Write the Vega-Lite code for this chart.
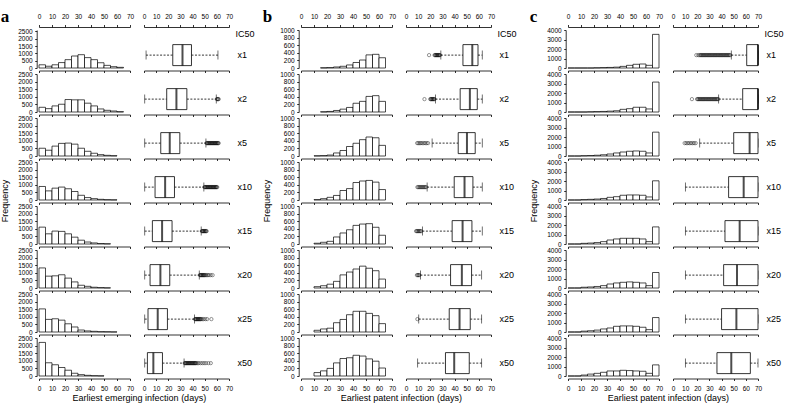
{
"$schema": "https://vega.github.io/schema/vega-lite/v6.json",
"padding": {"left": 0, "top": 7, "right": 0, "bottom": 0},
"datasets": {
"h": [
{"p":"a","r":"x1","b0":0,"b1":5,"n":220},{"p":"a","r":"x1","b0":5,"b1":10,"n":120},{"p":"a","r":"x1","b0":10,"b1":15,"n":220},{"p":"a","r":"x1","b0":15,"b1":20,"n":370},{"p":"a","r":"x1","b0":20,"b1":25,"n":570},{"p":"a","r":"x1","b0":25,"b1":30,"n":820},{"p":"a","r":"x1","b0":30,"b1":35,"n":910},{"p":"a","r":"x1","b0":35,"b1":40,"n":710},{"p":"a","r":"x1","b0":40,"b1":45,"n":570},{"p":"a","r":"x1","b0":45,"b1":50,"n":360},{"p":"a","r":"x1","b0":50,"b1":55,"n":180},{"p":"a","r":"x1","b0":55,"b1":60,"n":90},{"p":"a","r":"x1","b0":60,"b1":65,"n":45},
{"p":"a","r":"x2","b0":0,"b1":5,"n":310},{"p":"a","r":"x2","b0":5,"b1":10,"n":220},{"p":"a","r":"x2","b0":10,"b1":15,"n":400},{"p":"a","r":"x2","b0":15,"b1":20,"n":510},{"p":"a","r":"x2","b0":20,"b1":25,"n":820},{"p":"a","r":"x2","b0":25,"b1":30,"n":800},{"p":"a","r":"x2","b0":30,"b1":35,"n":800},{"p":"a","r":"x2","b0":35,"b1":40,"n":580},{"p":"a","r":"x2","b0":40,"b1":45,"n":400},{"p":"a","r":"x2","b0":45,"b1":50,"n":200},{"p":"a","r":"x2","b0":50,"b1":55,"n":110},{"p":"a","r":"x2","b0":55,"b1":60,"n":65},{"p":"a","r":"x2","b0":60,"b1":65,"n":20},
{"p":"a","r":"x5","b0":0,"b1":5,"n":510},{"p":"a","r":"x5","b0":5,"b1":10,"n":380},{"p":"a","r":"x5","b0":10,"b1":15,"n":650},{"p":"a","r":"x5","b0":15,"b1":20,"n":830},{"p":"a","r":"x5","b0":20,"b1":25,"n":850},{"p":"a","r":"x5","b0":25,"b1":30,"n":780},{"p":"a","r":"x5","b0":30,"b1":35,"n":510},{"p":"a","r":"x5","b0":35,"b1":40,"n":310},{"p":"a","r":"x5","b0":40,"b1":45,"n":180},{"p":"a","r":"x5","b0":45,"b1":50,"n":90},{"p":"a","r":"x5","b0":50,"b1":55,"n":45},{"p":"a","r":"x5","b0":55,"b1":60,"n":20},
{"p":"a","r":"x10","b0":0,"b1":5,"n":890},{"p":"a","r":"x10","b0":5,"b1":10,"n":600},{"p":"a","r":"x10","b0":10,"b1":15,"n":780},{"p":"a","r":"x10","b0":15,"b1":20,"n":850},{"p":"a","r":"x10","b0":20,"b1":25,"n":740},{"p":"a","r":"x10","b0":25,"b1":30,"n":560},{"p":"a","r":"x10","b0":30,"b1":35,"n":310},{"p":"a","r":"x10","b0":35,"b1":40,"n":160},{"p":"a","r":"x10","b0":40,"b1":45,"n":90},{"p":"a","r":"x10","b0":45,"b1":50,"n":45},{"p":"a","r":"x10","b0":50,"b1":55,"n":20},{"p":"a","r":"x10","b0":55,"b1":60,"n":10},
{"p":"a","r":"x15","b0":0,"b1":5,"n":1110},{"p":"a","r":"x15","b0":5,"b1":10,"n":670},{"p":"a","r":"x15","b0":10,"b1":15,"n":850},{"p":"a","r":"x15","b0":15,"b1":20,"n":830},{"p":"a","r":"x15","b0":20,"b1":25,"n":670},{"p":"a","r":"x15","b0":25,"b1":30,"n":450},{"p":"a","r":"x15","b0":30,"b1":35,"n":250},{"p":"a","r":"x15","b0":35,"b1":40,"n":130},{"p":"a","r":"x15","b0":40,"b1":45,"n":70},{"p":"a","r":"x15","b0":45,"b1":50,"n":30},{"p":"a","r":"x15","b0":50,"b1":55,"n":15},
{"p":"a","r":"x20","b0":0,"b1":5,"n":1320},{"p":"a","r":"x20","b0":5,"b1":10,"n":780},{"p":"a","r":"x20","b0":10,"b1":15,"n":800},{"p":"a","r":"x20","b0":15,"b1":20,"n":870},{"p":"a","r":"x20","b0":20,"b1":25,"n":650},{"p":"a","r":"x20","b0":25,"b1":30,"n":400},{"p":"a","r":"x20","b0":30,"b1":35,"n":180},{"p":"a","r":"x20","b0":35,"b1":40,"n":110},{"p":"a","r":"x20","b0":40,"b1":45,"n":50},{"p":"a","r":"x20","b0":45,"b1":50,"n":25},{"p":"a","r":"x20","b0":50,"b1":55,"n":10},
{"p":"a","r":"x25","b0":0,"b1":5,"n":1520},{"p":"a","r":"x25","b0":5,"b1":10,"n":830},{"p":"a","r":"x25","b0":10,"b1":15,"n":870},{"p":"a","r":"x25","b0":15,"b1":20,"n":780},{"p":"a","r":"x25","b0":20,"b1":25,"n":540},{"p":"a","r":"x25","b0":25,"b1":30,"n":330},{"p":"a","r":"x25","b0":30,"b1":35,"n":130},{"p":"a","r":"x25","b0":35,"b1":40,"n":70},{"p":"a","r":"x25","b0":40,"b1":45,"n":45},{"p":"a","r":"x25","b0":45,"b1":50,"n":20},{"p":"a","r":"x25","b0":50,"b1":55,"n":15},{"p":"a","r":"x25","b0":55,"b1":60,"n":5},
{"p":"a","r":"x50","b0":0,"b1":5,"n":2210},{"p":"a","r":"x50","b0":5,"b1":10,"n":870},{"p":"a","r":"x50","b0":10,"b1":15,"n":740},{"p":"a","r":"x50","b0":15,"b1":20,"n":560},{"p":"a","r":"x50","b0":20,"b1":25,"n":380},{"p":"a","r":"x50","b0":25,"b1":30,"n":180},{"p":"a","r":"x50","b0":30,"b1":35,"n":90},{"p":"a","r":"x50","b0":35,"b1":40,"n":45},{"p":"a","r":"x50","b0":40,"b1":45,"n":20},{"p":"a","r":"x50","b0":45,"b1":50,"n":10},
{"p":"b","r":"x1","b0":15,"b1":20,"n":5},{"p":"b","r":"x1","b0":20,"b1":25,"n":10},{"p":"b","r":"x1","b0":25,"b1":30,"n":27},{"p":"b","r":"x1","b0":30,"b1":35,"n":45},{"p":"b","r":"x1","b0":35,"b1":40,"n":80},{"p":"b","r":"x1","b0":40,"b1":45,"n":145},{"p":"b","r":"x1","b0":45,"b1":50,"n":210},{"p":"b","r":"x1","b0":50,"b1":55,"n":345},{"p":"b","r":"x1","b0":55,"b1":60,"n":360},{"p":"b","r":"x1","b0":60,"b1":65,"n":270},
{"p":"b","r":"x2","b0":15,"b1":20,"n":5},{"p":"b","r":"x2","b0":20,"b1":25,"n":15},{"p":"b","r":"x2","b0":25,"b1":30,"n":40},{"p":"b","r":"x2","b0":30,"b1":35,"n":75},{"p":"b","r":"x2","b0":35,"b1":40,"n":120},{"p":"b","r":"x2","b0":40,"b1":45,"n":230},{"p":"b","r":"x2","b0":45,"b1":50,"n":280},{"p":"b","r":"x2","b0":50,"b1":55,"n":410},{"p":"b","r":"x2","b0":55,"b1":60,"n":430},{"p":"b","r":"x2","b0":60,"b1":65,"n":280},
{"p":"b","r":"x5","b0":10,"b1":15,"n":5},{"p":"b","r":"x5","b0":15,"b1":20,"n":10},{"p":"b","r":"x5","b0":20,"b1":25,"n":25},{"p":"b","r":"x5","b0":25,"b1":30,"n":80},{"p":"b","r":"x5","b0":30,"b1":35,"n":145},{"p":"b","r":"x5","b0":35,"b1":40,"n":250},{"p":"b","r":"x5","b0":40,"b1":45,"n":335},{"p":"b","r":"x5","b0":45,"b1":50,"n":430},{"p":"b","r":"x5","b0":50,"b1":55,"n":500},{"p":"b","r":"x5","b0":55,"b1":60,"n":480},{"p":"b","r":"x5","b0":60,"b1":65,"n":280},
{"p":"b","r":"x10","b0":10,"b1":15,"n":10},{"p":"b","r":"x10","b0":15,"b1":20,"n":35},{"p":"b","r":"x10","b0":20,"b1":25,"n":70},{"p":"b","r":"x10","b0":25,"b1":30,"n":120},{"p":"b","r":"x10","b0":30,"b1":35,"n":250},{"p":"b","r":"x10","b0":35,"b1":40,"n":300},{"p":"b","r":"x10","b0":40,"b1":45,"n":460},{"p":"b","r":"x10","b0":45,"b1":50,"n":500},{"p":"b","r":"x10","b0":50,"b1":55,"n":515},{"p":"b","r":"x10","b0":55,"b1":60,"n":470},{"p":"b","r":"x10","b0":60,"b1":65,"n":275},
{"p":"b","r":"x15","b0":10,"b1":15,"n":20},{"p":"b","r":"x15","b0":15,"b1":20,"n":45},{"p":"b","r":"x15","b0":20,"b1":25,"n":70},{"p":"b","r":"x15","b0":25,"b1":30,"n":185},{"p":"b","r":"x15","b0":30,"b1":35,"n":290},{"p":"b","r":"x15","b0":35,"b1":40,"n":375},{"p":"b","r":"x15","b0":40,"b1":45,"n":490},{"p":"b","r":"x15","b0":45,"b1":50,"n":525},{"p":"b","r":"x15","b0":50,"b1":55,"n":535},{"p":"b","r":"x15","b0":55,"b1":60,"n":440},{"p":"b","r":"x15","b0":60,"b1":65,"n":230},
{"p":"b","r":"x20","b0":10,"b1":15,"n":35},{"p":"b","r":"x20","b0":15,"b1":20,"n":60},{"p":"b","r":"x20","b0":20,"b1":25,"n":100},{"p":"b","r":"x20","b0":25,"b1":30,"n":175},{"p":"b","r":"x20","b0":30,"b1":35,"n":345},{"p":"b","r":"x20","b0":35,"b1":40,"n":420},{"p":"b","r":"x20","b0":40,"b1":45,"n":500},{"p":"b","r":"x20","b0":45,"b1":50,"n":575},{"p":"b","r":"x20","b0":50,"b1":55,"n":520},{"p":"b","r":"x20","b0":55,"b1":60,"n":455},{"p":"b","r":"x20","b0":60,"b1":65,"n":235},
{"p":"b","r":"x25","b0":10,"b1":15,"n":45},{"p":"b","r":"x25","b0":15,"b1":20,"n":80},{"p":"b","r":"x25","b0":20,"b1":25,"n":100},{"p":"b","r":"x25","b0":25,"b1":30,"n":245},{"p":"b","r":"x25","b0":30,"b1":35,"n":330},{"p":"b","r":"x25","b0":35,"b1":40,"n":455},{"p":"b","r":"x25","b0":40,"b1":45,"n":545},{"p":"b","r":"x25","b0":45,"b1":50,"n":545},{"p":"b","r":"x25","b0":50,"b1":55,"n":490},{"p":"b","r":"x25","b0":55,"b1":60,"n":430},{"p":"b","r":"x25","b0":60,"b1":65,"n":220},
{"p":"b","r":"x50","b0":10,"b1":15,"n":90},{"p":"b","r":"x50","b0":15,"b1":20,"n":135},{"p":"b","r":"x50","b0":20,"b1":25,"n":200},{"p":"b","r":"x50","b0":25,"b1":30,"n":345},{"p":"b","r":"x50","b0":30,"b1":35,"n":460},{"p":"b","r":"x50","b0":35,"b1":40,"n":480},{"p":"b","r":"x50","b0":40,"b1":45,"n":545},{"p":"b","r":"x50","b0":45,"b1":50,"n":525},{"p":"b","r":"x50","b0":50,"b1":55,"n":450},{"p":"b","r":"x50","b0":55,"b1":60,"n":390},{"p":"b","r":"x50","b0":60,"b1":65,"n":210},
{"p":"c","r":"x1","b0":0,"b1":5,"n":0},{"p":"c","r":"x1","b0":5,"b1":10,"n":0},{"p":"c","r":"x1","b0":10,"b1":15,"n":0},{"p":"c","r":"x1","b0":15,"b1":20,"n":0},{"p":"c","r":"x1","b0":20,"b1":25,"n":20},{"p":"c","r":"x1","b0":25,"b1":30,"n":40},{"p":"c","r":"x1","b0":30,"b1":35,"n":60},{"p":"c","r":"x1","b0":35,"b1":40,"n":90},{"p":"c","r":"x1","b0":40,"b1":45,"n":170},{"p":"c","r":"x1","b0":45,"b1":50,"n":280},{"p":"c","r":"x1","b0":50,"b1":55,"n":390},{"p":"c","r":"x1","b0":55,"b1":60,"n":420},{"p":"c","r":"x1","b0":60,"b1":65,"n":280},{"p":"c","r":"x1","b0":65,"b1":70,"n":3540},
{"p":"c","r":"x2","b0":0,"b1":5,"n":0},{"p":"c","r":"x2","b0":5,"b1":10,"n":0},{"p":"c","r":"x2","b0":10,"b1":15,"n":0},{"p":"c","r":"x2","b0":15,"b1":20,"n":20},{"p":"c","r":"x2","b0":20,"b1":25,"n":40},{"p":"c","r":"x2","b0":25,"b1":30,"n":60},{"p":"c","r":"x2","b0":30,"b1":35,"n":90},{"p":"c","r":"x2","b0":35,"b1":40,"n":130},{"p":"c","r":"x2","b0":40,"b1":45,"n":280},{"p":"c","r":"x2","b0":45,"b1":50,"n":350},{"p":"c","r":"x2","b0":50,"b1":55,"n":500},{"p":"c","r":"x2","b0":55,"b1":60,"n":500},{"p":"c","r":"x2","b0":60,"b1":65,"n":320},{"p":"c","r":"x2","b0":65,"b1":70,"n":3150},
{"p":"c","r":"x5","b0":0,"b1":5,"n":0},{"p":"c","r":"x5","b0":5,"b1":10,"n":0},{"p":"c","r":"x5","b0":10,"b1":15,"n":30},{"p":"c","r":"x5","b0":15,"b1":20,"n":50},{"p":"c","r":"x5","b0":20,"b1":25,"n":80},{"p":"c","r":"x5","b0":25,"b1":30,"n":130},{"p":"c","r":"x5","b0":30,"b1":35,"n":210},{"p":"c","r":"x5","b0":35,"b1":40,"n":320},{"p":"c","r":"x5","b0":40,"b1":45,"n":420},{"p":"c","r":"x5","b0":45,"b1":50,"n":500},{"p":"c","r":"x5","b0":50,"b1":55,"n":530},{"p":"c","r":"x5","b0":55,"b1":60,"n":500},{"p":"c","r":"x5","b0":60,"b1":65,"n":320},{"p":"c","r":"x5","b0":65,"b1":70,"n":2510},
{"p":"c","r":"x10","b0":0,"b1":5,"n":0},{"p":"c","r":"x10","b0":5,"b1":10,"n":0},{"p":"c","r":"x10","b0":10,"b1":15,"n":40},{"p":"c","r":"x10","b0":15,"b1":20,"n":70},{"p":"c","r":"x10","b0":20,"b1":25,"n":100},{"p":"c","r":"x10","b0":25,"b1":30,"n":160},{"p":"c","r":"x10","b0":30,"b1":35,"n":280},{"p":"c","r":"x10","b0":35,"b1":40,"n":350},{"p":"c","r":"x10","b0":40,"b1":45,"n":500},{"p":"c","r":"x10","b0":45,"b1":50,"n":530},{"p":"c","r":"x10","b0":50,"b1":55,"n":530},{"p":"c","r":"x10","b0":55,"b1":60,"n":500},{"p":"c","r":"x10","b0":60,"b1":65,"n":320},{"p":"c","r":"x10","b0":65,"b1":70,"n":2020},
{"p":"c","r":"x15","b0":0,"b1":5,"n":0},{"p":"c","r":"x15","b0":5,"b1":10,"n":0},{"p":"c","r":"x15","b0":10,"b1":15,"n":70},{"p":"c","r":"x15","b0":15,"b1":20,"n":100},{"p":"c","r":"x15","b0":20,"b1":25,"n":150},{"p":"c","r":"x15","b0":25,"b1":30,"n":250},{"p":"c","r":"x15","b0":30,"b1":35,"n":420},{"p":"c","r":"x15","b0":35,"b1":40,"n":530},{"p":"c","r":"x15","b0":40,"b1":45,"n":600},{"p":"c","r":"x15","b0":45,"b1":50,"n":600},{"p":"c","r":"x15","b0":50,"b1":55,"n":600},{"p":"c","r":"x15","b0":55,"b1":60,"n":530},{"p":"c","r":"x15","b0":60,"b1":65,"n":250},{"p":"c","r":"x15","b0":65,"b1":70,"n":1800},
{"p":"c","r":"x20","b0":0,"b1":5,"n":0},{"p":"c","r":"x20","b0":5,"b1":10,"n":0},{"p":"c","r":"x20","b0":10,"b1":15,"n":80},{"p":"c","r":"x20","b0":15,"b1":20,"n":110},{"p":"c","r":"x20","b0":20,"b1":25,"n":160},{"p":"c","r":"x20","b0":25,"b1":30,"n":250},{"p":"c","r":"x20","b0":30,"b1":35,"n":420},{"p":"c","r":"x20","b0":35,"b1":40,"n":530},{"p":"c","r":"x20","b0":40,"b1":45,"n":600},{"p":"c","r":"x20","b0":45,"b1":50,"n":640},{"p":"c","r":"x20","b0":50,"b1":55,"n":600},{"p":"c","r":"x20","b0":55,"b1":60,"n":530},{"p":"c","r":"x20","b0":60,"b1":65,"n":250},{"p":"c","r":"x20","b0":65,"b1":70,"n":1630},
{"p":"c","r":"x25","b0":0,"b1":5,"n":0},{"p":"c","r":"x25","b0":5,"b1":10,"n":0},{"p":"c","r":"x25","b0":10,"b1":15,"n":90},{"p":"c","r":"x25","b0":15,"b1":20,"n":130},{"p":"c","r":"x25","b0":20,"b1":25,"n":200},{"p":"c","r":"x25","b0":25,"b1":30,"n":320},{"p":"c","r":"x25","b0":30,"b1":35,"n":420},{"p":"c","r":"x25","b0":35,"b1":40,"n":600},{"p":"c","r":"x25","b0":40,"b1":45,"n":640},{"p":"c","r":"x25","b0":45,"b1":50,"n":640},{"p":"c","r":"x25","b0":50,"b1":55,"n":600},{"p":"c","r":"x25","b0":55,"b1":60,"n":500},{"p":"c","r":"x25","b0":60,"b1":65,"n":250},{"p":"c","r":"x25","b0":65,"b1":70,"n":1520},
{"p":"c","r":"x50","b0":0,"b1":5,"n":0},{"p":"c","r":"x50","b0":5,"b1":10,"n":0},{"p":"c","r":"x50","b0":10,"b1":15,"n":100},{"p":"c","r":"x50","b0":15,"b1":20,"n":200},{"p":"c","r":"x50","b0":20,"b1":25,"n":280},{"p":"c","r":"x50","b0":25,"b1":30,"n":390},{"p":"c","r":"x50","b0":30,"b1":35,"n":530},{"p":"c","r":"x50","b0":35,"b1":40,"n":530},{"p":"c","r":"x50","b0":40,"b1":45,"n":600},{"p":"c","r":"x50","b0":45,"b1":50,"n":570},{"p":"c","r":"x50","b0":50,"b1":55,"n":530},{"p":"c","r":"x50","b0":55,"b1":60,"n":500},{"p":"c","r":"x50","b0":60,"b1":65,"n":280},{"p":"c","r":"x50","b0":65,"b1":70,"n":1170}
],
"bx": [
{"p":"a","r":"x1","lo":1.7,"q1":23.7,"med":31.7,"q3":39.1,"hi":60.9},
{"p":"a","r":"x2","lo":0.6,"q1":18.7,"med":26.7,"q3":35.3,"hi":59.5},
{"p":"a","r":"x5","lo":0.6,"q1":13.8,"med":21.2,"q3":29.5,"hi":51},
{"p":"a","r":"x10","lo":0.6,"q1":9.1,"med":17.4,"q3":25.1,"hi":49.3},
{"p":"a","r":"x15","lo":0.6,"q1":6.9,"med":14.9,"q3":23.1,"hi":47.1},
{"p":"a","r":"x20","lo":0.6,"q1":5,"med":13.5,"q3":21.2,"hi":45.5},
{"p":"a","r":"x25","lo":0.6,"q1":3.3,"med":11.3,"q3":19.3,"hi":41.6},
{"p":"a","r":"x50","lo":0.6,"q1":2.8,"med":7.7,"q3":15.2,"hi":33},
{"p":"b","r":"x1","lo":28.7,"q1":46.9,"med":54.6,"q3":59.3,"hi":62.8},
{"p":"b","r":"x2","lo":24.3,"q1":44.6,"med":52.6,"q3":58.7,"hi":62.8},
{"p":"b","r":"x5","lo":21.5,"q1":43,"med":50.2,"q3":57,"hi":62.8},
{"p":"b","r":"x10","lo":17.4,"q1":39.7,"med":48.2,"q3":55.1,"hi":62.8},
{"p":"b","r":"x15","lo":13.5,"q1":38,"med":46.6,"q3":54.3,"hi":62.8},
{"p":"b","r":"x20","lo":11.9,"q1":36.7,"med":46,"q3":54,"hi":62.3},
{"p":"b","r":"x25","lo":10.5,"q1":35.6,"med":44.1,"q3":52.9,"hi":62.3},
{"p":"b","r":"x50","lo":9.6,"q1":32.5,"med":39.7,"q3":52.1,"hi":62.3},
{"p":"c","r":"x1","lo":48,"q1":60.7,"med":70,"q3":70,"hi":70},
{"p":"c","r":"x2","lo":37.6,"q1":57.4,"med":70,"q3":70,"hi":70},
{"p":"c","r":"x5","lo":22,"q1":50,"med":63.1,"q3":70,"hi":70},
{"p":"c","r":"x10","lo":10.2,"q1":45.8,"med":58.2,"q3":70,"hi":70},
{"p":"c","r":"x15","lo":10.2,"q1":42.8,"med":54.9,"q3":70,"hi":70},
{"p":"c","r":"x20","lo":10.2,"q1":41.7,"med":52.7,"q3":70,"hi":70},
{"p":"c","r":"x25","lo":10.2,"q1":40,"med":52.2,"q3":70,"hi":70},
{"p":"c","r":"x50","lo":10.2,"q1":36.2,"med":48,"q3":63.7,"hi":70}
],
"o": [
{"p":"a","r":"x2","v":60},{"p":"a","r":"x2","v":60.5},{"p":"a","r":"x2","v":61},{"p":"a","r":"x2","v":61.5},
{"p":"a","r":"x5","v":51.5},{"p":"a","r":"x5","v":52},{"p":"a","r":"x5","v":52.5},{"p":"a","r":"x5","v":53},{"p":"a","r":"x5","v":53.5},{"p":"a","r":"x5","v":54},{"p":"a","r":"x5","v":54.5},{"p":"a","r":"x5","v":55},{"p":"a","r":"x5","v":55.5},{"p":"a","r":"x5","v":56},{"p":"a","r":"x5","v":56.5},{"p":"a","r":"x5","v":57},{"p":"a","r":"x5","v":57.5},{"p":"a","r":"x5","v":58},{"p":"a","r":"x5","v":58.5},{"p":"a","r":"x5","v":59},{"p":"a","r":"x5","v":59.5},{"p":"a","r":"x5","v":60},{"p":"a","r":"x5","v":60.5},{"p":"a","r":"x5","v":61},{"p":"a","r":"x5","v":61.5},
{"p":"a","r":"x10","v":49.8},{"p":"a","r":"x10","v":50.3},{"p":"a","r":"x10","v":50.8},{"p":"a","r":"x10","v":51.3},{"p":"a","r":"x10","v":51.8},{"p":"a","r":"x10","v":52.3},{"p":"a","r":"x10","v":52.8},{"p":"a","r":"x10","v":53.3},{"p":"a","r":"x10","v":53.8},{"p":"a","r":"x10","v":54.3},{"p":"a","r":"x10","v":54.8},{"p":"a","r":"x10","v":55.3},{"p":"a","r":"x10","v":55.8},{"p":"a","r":"x10","v":56.3},{"p":"a","r":"x10","v":56.8},{"p":"a","r":"x10","v":57.3},{"p":"a","r":"x10","v":57.8},{"p":"a","r":"x10","v":58.3},{"p":"a","r":"x10","v":58.8},{"p":"a","r":"x10","v":59.3},{"p":"a","r":"x10","v":59.8},{"p":"a","r":"x10","v":60.3},
{"p":"a","r":"x15","v":47.6},{"p":"a","r":"x15","v":48.1},{"p":"a","r":"x15","v":48.6},{"p":"a","r":"x15","v":49.1},{"p":"a","r":"x15","v":49.6},{"p":"a","r":"x15","v":50.1},{"p":"a","r":"x15","v":50.6},{"p":"a","r":"x15","v":51.1},{"p":"a","r":"x15","v":51.6},
{"p":"a","r":"x20","v":46},{"p":"a","r":"x20","v":46.5},{"p":"a","r":"x20","v":47},{"p":"a","r":"x20","v":47.5},{"p":"a","r":"x20","v":48},{"p":"a","r":"x20","v":48.5},{"p":"a","r":"x20","v":49},{"p":"a","r":"x20","v":49.5},{"p":"a","r":"x20","v":50},{"p":"a","r":"x20","v":50.7},{"p":"a","r":"x20","v":51.5},{"p":"a","r":"x20","v":52.5},{"p":"a","r":"x20","v":53.5},{"p":"a","r":"x20","v":55},{"p":"a","r":"x20","v":56.5},
{"p":"a","r":"x25","v":42},{"p":"a","r":"x25","v":42.5},{"p":"a","r":"x25","v":43},{"p":"a","r":"x25","v":43.5},{"p":"a","r":"x25","v":44},{"p":"a","r":"x25","v":44.5},{"p":"a","r":"x25","v":45},{"p":"a","r":"x25","v":45.5},{"p":"a","r":"x25","v":46},{"p":"a","r":"x25","v":46.5},{"p":"a","r":"x25","v":47},{"p":"a","r":"x25","v":48},{"p":"a","r":"x25","v":49},{"p":"a","r":"x25","v":50.5},{"p":"a","r":"x25","v":52},{"p":"a","r":"x25","v":55.5},
{"p":"a","r":"x50","v":33.5},{"p":"a","r":"x50","v":34},{"p":"a","r":"x50","v":34.5},{"p":"a","r":"x50","v":35},{"p":"a","r":"x50","v":35.5},{"p":"a","r":"x50","v":36},{"p":"a","r":"x50","v":36.5},{"p":"a","r":"x50","v":37},{"p":"a","r":"x50","v":37.5},{"p":"a","r":"x50","v":38},{"p":"a","r":"x50","v":38.5},{"p":"a","r":"x50","v":39},{"p":"a","r":"x50","v":39.5},{"p":"a","r":"x50","v":40},{"p":"a","r":"x50","v":40.5},{"p":"a","r":"x50","v":41},{"p":"a","r":"x50","v":41.5},{"p":"a","r":"x50","v":42},{"p":"a","r":"x50","v":42.5},{"p":"a","r":"x50","v":43},{"p":"a","r":"x50","v":44},{"p":"a","r":"x50","v":45},{"p":"a","r":"x50","v":46.5},{"p":"a","r":"x50","v":48},{"p":"a","r":"x50","v":49.5},{"p":"a","r":"x50","v":51},{"p":"a","r":"x50","v":53},{"p":"a","r":"x50","v":55},
{"p":"b","r":"x1","v":19},{"p":"b","r":"x1","v":23.5},{"p":"b","r":"x1","v":24},{"p":"b","r":"x1","v":24.5},{"p":"b","r":"x1","v":25},{"p":"b","r":"x1","v":25.5},{"p":"b","r":"x1","v":26},{"p":"b","r":"x1","v":26.5},{"p":"b","r":"x1","v":27},{"p":"b","r":"x1","v":27.5},{"p":"b","r":"x1","v":28},
{"p":"b","r":"x2","v":15.2},{"p":"b","r":"x2","v":20},{"p":"b","r":"x2","v":20.5},{"p":"b","r":"x2","v":21},{"p":"b","r":"x2","v":21.5},{"p":"b","r":"x2","v":22},{"p":"b","r":"x2","v":22.5},{"p":"b","r":"x2","v":23},{"p":"b","r":"x2","v":23.5},
{"p":"b","r":"x5","v":9.2},{"p":"b","r":"x5","v":10.2},{"p":"b","r":"x5","v":11.2},{"p":"b","r":"x5","v":12.2},{"p":"b","r":"x5","v":13.4},{"p":"b","r":"x5","v":14.6},{"p":"b","r":"x5","v":15.8},{"p":"b","r":"x5","v":17},{"p":"b","r":"x5","v":18.2},
{"p":"b","r":"x10","v":9.4},{"p":"b","r":"x10","v":10.2},{"p":"b","r":"x10","v":11},{"p":"b","r":"x10","v":11.8},{"p":"b","r":"x10","v":12.6},{"p":"b","r":"x10","v":13.4},{"p":"b","r":"x10","v":14.2},{"p":"b","r":"x10","v":15},{"p":"b","r":"x10","v":15.8},{"p":"b","r":"x10","v":16.6},
{"p":"b","r":"x15","v":8.3},{"p":"b","r":"x15","v":9},{"p":"b","r":"x15","v":9.7},{"p":"b","r":"x15","v":10.4},{"p":"b","r":"x15","v":11.1},{"p":"b","r":"x15","v":11.8},{"p":"b","r":"x15","v":12.5},
{"p":"b","r":"x20","v":9},{"p":"b","r":"x20","v":9.7},{"p":"b","r":"x20","v":10.4},{"p":"b","r":"x20","v":11},
{"p":"b","r":"x25","v":9.4},
{"p":"c","r":"x1","v":19.2},{"p":"c","r":"x1","v":20.8},{"p":"c","r":"x1","v":22},{"p":"c","r":"x1","v":22.7},{"p":"c","r":"x1","v":23.4},{"p":"c","r":"x1","v":24.1},{"p":"c","r":"x1","v":24.8},{"p":"c","r":"x1","v":25.5},{"p":"c","r":"x1","v":26.2},{"p":"c","r":"x1","v":26.9},{"p":"c","r":"x1","v":27.6},{"p":"c","r":"x1","v":28.3},{"p":"c","r":"x1","v":29},{"p":"c","r":"x1","v":29.7},{"p":"c","r":"x1","v":30.4},{"p":"c","r":"x1","v":31.1},{"p":"c","r":"x1","v":31.8},{"p":"c","r":"x1","v":32.5},{"p":"c","r":"x1","v":33.2},{"p":"c","r":"x1","v":33.9},{"p":"c","r":"x1","v":34.6},{"p":"c","r":"x1","v":35.3},{"p":"c","r":"x1","v":36},{"p":"c","r":"x1","v":36.7},{"p":"c","r":"x1","v":37.4},{"p":"c","r":"x1","v":38.1},{"p":"c","r":"x1","v":38.8},{"p":"c","r":"x1","v":39.5},{"p":"c","r":"x1","v":40.2},{"p":"c","r":"x1","v":40.9},{"p":"c","r":"x1","v":41.6},{"p":"c","r":"x1","v":42.3},{"p":"c","r":"x1","v":43},{"p":"c","r":"x1","v":43.7},{"p":"c","r":"x1","v":44.4},{"p":"c","r":"x1","v":45.1},{"p":"c","r":"x1","v":45.8},{"p":"c","r":"x1","v":46.5},{"p":"c","r":"x1","v":47.2},
{"p":"c","r":"x2","v":15.6},{"p":"c","r":"x2","v":19.8},{"p":"c","r":"x2","v":20.5},{"p":"c","r":"x2","v":21.2},{"p":"c","r":"x2","v":21.9},{"p":"c","r":"x2","v":22.6},{"p":"c","r":"x2","v":23.3},{"p":"c","r":"x2","v":24},{"p":"c","r":"x2","v":24.7},{"p":"c","r":"x2","v":25.4},{"p":"c","r":"x2","v":26.1},{"p":"c","r":"x2","v":26.8},{"p":"c","r":"x2","v":27.5},{"p":"c","r":"x2","v":28.2},{"p":"c","r":"x2","v":28.9},{"p":"c","r":"x2","v":29.6},{"p":"c","r":"x2","v":30.3},{"p":"c","r":"x2","v":31},{"p":"c","r":"x2","v":31.7},{"p":"c","r":"x2","v":32.4},{"p":"c","r":"x2","v":33.1},{"p":"c","r":"x2","v":33.8},{"p":"c","r":"x2","v":34.5},{"p":"c","r":"x2","v":35.2},{"p":"c","r":"x2","v":35.9},{"p":"c","r":"x2","v":36.6},{"p":"c","r":"x2","v":37.3},
{"p":"c","r":"x5","v":9.6},{"p":"c","r":"x5","v":10.9},{"p":"c","r":"x5","v":12.2},{"p":"c","r":"x5","v":13.5},{"p":"c","r":"x5","v":14.8},{"p":"c","r":"x5","v":16.1},{"p":"c","r":"x5","v":17.4},{"p":"c","r":"x5","v":18.7}
]
},
"spacing": 7,
"hconcat": [
{"title": {"text": "a", "anchor": "start", "frame": "bounds", "font": "Liberation Serif", "fontWeight": "bold", "fontSize": 17, "offset": -12},
 "vconcat": [{"title": {"text": "Earliest emerging infection (days)", "orient": "bottom", "anchor": "middle", "frame": "bounds", "dx": 12, "offset": 2},
  "spacing": 8,
  "hconcat": [
   {"vconcat": [
    {"width":91,"height":38,"data":{"name":"h"},"transform":[{"filter":"datum.p=='a'&&datum.r=='x1'"}],"resolve":{"axis":{"x":"independent"}},"layer":[
      {"mark":{"type":"bar","fill":"white","stroke":"black","strokeWidth":0.7},"encoding":{"x":{"field":"b0","type":"quantitative","title":null,"scale":{"domain":[0,70]},"axis":{"orient":"bottom"}},"x2":{"field":"b1"},"y":{"field":"n","type":"quantitative","title":null,"scale":{"domain":[0,2500]}},"y2":{"datum":0}}},
      {"mark":{"type":"bar","opacity":0},"encoding":{"x":{"field":"b0","type":"quantitative","title":null,"axis":{"orient":"top"}},"x2":{"field":"b1"},"y":{"field":"n","type":"quantitative","title":null},"y2":{"datum":0}}}]},
    {"width":91,"height":38,"data":{"name":"h"},"transform":[{"filter":"datum.p=='a'&&datum.r=='x2'"}],"mark":{"type":"bar","fill":"white","stroke":"black","strokeWidth":0.7},"encoding":{"x":{"field":"b0","type":"quantitative","title":null,"scale":{"domain":[0,70]}},"x2":{"field":"b1"},"y":{"field":"n","type":"quantitative","title":null,"scale":{"domain":[0,2500]}},"y2":{"datum":0}}},
    {"width":91,"height":38,"data":{"name":"h"},"transform":[{"filter":"datum.p=='a'&&datum.r=='x5'"}],"mark":{"type":"bar","fill":"white","stroke":"black","strokeWidth":0.7},"encoding":{"x":{"field":"b0","type":"quantitative","title":null,"scale":{"domain":[0,70]}},"x2":{"field":"b1"},"y":{"field":"n","type":"quantitative","title":null,"scale":{"domain":[0,2500]}},"y2":{"datum":0}}},
    {"width":91,"height":38,"data":{"name":"h"},"transform":[{"filter":"datum.p=='a'&&datum.r=='x10'"}],"mark":{"type":"bar","fill":"white","stroke":"black","strokeWidth":0.7},"encoding":{"x":{"field":"b0","type":"quantitative","title":null,"scale":{"domain":[0,70]}},"x2":{"field":"b1"},"y":{"field":"n","type":"quantitative","title":"Frequency","scale":{"domain":[0,2500]},"axis":{"titleX":-29,"titleY":38.5,"titleAngle":-90,"titleAlign":"center","titleBaseline":"alphabetic"}},"y2":{"datum":0}}},
    {"width":91,"height":38,"data":{"name":"h"},"transform":[{"filter":"datum.p=='a'&&datum.r=='x15'"}],"mark":{"type":"bar","fill":"white","stroke":"black","strokeWidth":0.7},"encoding":{"x":{"field":"b0","type":"quantitative","title":null,"scale":{"domain":[0,70]}},"x2":{"field":"b1"},"y":{"field":"n","type":"quantitative","title":null,"scale":{"domain":[0,2500]}},"y2":{"datum":0}}},
    {"width":91,"height":38,"data":{"name":"h"},"transform":[{"filter":"datum.p=='a'&&datum.r=='x20'"}],"mark":{"type":"bar","fill":"white","stroke":"black","strokeWidth":0.7},"encoding":{"x":{"field":"b0","type":"quantitative","title":null,"scale":{"domain":[0,70]}},"x2":{"field":"b1"},"y":{"field":"n","type":"quantitative","title":null,"scale":{"domain":[0,2500]}},"y2":{"datum":0}}},
    {"width":91,"height":38,"data":{"name":"h"},"transform":[{"filter":"datum.p=='a'&&datum.r=='x25'"}],"mark":{"type":"bar","fill":"white","stroke":"black","strokeWidth":0.7},"encoding":{"x":{"field":"b0","type":"quantitative","title":null,"scale":{"domain":[0,70]}},"x2":{"field":"b1"},"y":{"field":"n","type":"quantitative","title":null,"scale":{"domain":[0,2500]}},"y2":{"datum":0}}},
    {"width":91,"height":38,"data":{"name":"h"},"transform":[{"filter":"datum.p=='a'&&datum.r=='x50'"}],"mark":{"type":"bar","fill":"white","stroke":"black","strokeWidth":0.7},"encoding":{"x":{"field":"b0","type":"quantitative","title":null,"scale":{"domain":[0,70]},"axis":{"labels":true}},"x2":{"field":"b1"},"y":{"field":"n","type":"quantitative","title":null,"scale":{"domain":[0,2500]}},"y2":{"datum":0}}}
   ], "spacing": 6, "bounds": "flush"},
   {"vconcat": [
    {"width":85,"height":38,"data":{"name":"bx"},"transform":[{"filter":"datum.p=='a'&&datum.r=='x1'"}],"resolve":{"axis":{"x":"independent"}},"encoding":{"y":{"field":"r","type":"nominal","title":"IC50","scale":{"paddingInner":0,"paddingOuter":0.405,"align":0.86},"axis":{"orient":"right","titleAngle":0,"titleAlign":"left","titleBaseline":"alphabetic","titleX":6,"titleY":6,"titleFontSize":9}}},"layer":[
      {"mark":"rule","encoding":{"x":{"field":"lo","type":"quantitative","title":null,"scale":{"domain":[0,70]},"axis":{"orient":"bottom"}},"x2":{"field":"q1"}}},
      {"mark":"rule","encoding":{"x":{"field":"q3","type":"quantitative","title":null,"axis":null},"x2":{"field":"hi"}}},
      {"mark":{"type":"tick","size":9},"encoding":{"x":{"field":"lo","type":"quantitative","title":null,"axis":null}}},
      {"mark":{"type":"tick","size":9},"encoding":{"x":{"field":"hi","type":"quantitative","title":null,"axis":null}}},
      {"mark":{"type":"bar","fill":"white","stroke":"black","strokeWidth":0.8},"encoding":{"x":{"field":"q1","type":"quantitative","title":null,"axis":{"orient":"top"}},"x2":{"field":"q3"}}},
      {"mark":{"type":"tick","size":21,"thickness":2},"encoding":{"x":{"field":"med","type":"quantitative","title":null,"axis":null}}},
      {"data":{"name":"o"},"transform":[{"filter":"datum.p=='a'&&datum.r=='x1'"}],"mark":"point","encoding":{"x":{"field":"v","type":"quantitative","title":null,"axis":null}}}]},
    {"width":85,"height":38,"data":{"name":"bx"},"transform":[{"filter":"datum.p=='a'&&datum.r=='x2'"}],"encoding":{"y":{"field":"r","type":"nominal","title":null,"scale":{"paddingInner":0,"paddingOuter":0.405,"align":0.86},"axis":{"orient":"right"}}},"layer":[
      {"mark":"rule","encoding":{"x":{"field":"lo","type":"quantitative","title":null,"scale":{"domain":[0,70]}},"x2":{"field":"q1"}}},
      {"mark":"rule","encoding":{"x":{"field":"q3","type":"quantitative","title":null},"x2":{"field":"hi"}}},
      {"mark":{"type":"tick","size":9},"encoding":{"x":{"field":"lo","type":"quantitative","title":null}}},
      {"mark":{"type":"tick","size":9},"encoding":{"x":{"field":"hi","type":"quantitative","title":null}}},
      {"mark":{"type":"bar","fill":"white","stroke":"black","strokeWidth":0.8},"encoding":{"x":{"field":"q1","type":"quantitative","title":null},"x2":{"field":"q3"}}},
      {"mark":{"type":"tick","size":21,"thickness":2},"encoding":{"x":{"field":"med","type":"quantitative","title":null}}},
      {"data":{"name":"o"},"transform":[{"filter":"datum.p=='a'&&datum.r=='x2'"}],"mark":"point","encoding":{"x":{"field":"v","type":"quantitative","title":null}}}]},
    {"width":85,"height":38,"data":{"name":"bx"},"transform":[{"filter":"datum.p=='a'&&datum.r=='x5'"}],"encoding":{"y":{"field":"r","type":"nominal","title":null,"scale":{"paddingInner":0,"paddingOuter":0.405,"align":0.86},"axis":{"orient":"right"}}},"layer":[
      {"mark":"rule","encoding":{"x":{"field":"lo","type":"quantitative","title":null,"scale":{"domain":[0,70]}},"x2":{"field":"q1"}}},
      {"mark":"rule","encoding":{"x":{"field":"q3","type":"quantitative","title":null},"x2":{"field":"hi"}}},
      {"mark":{"type":"tick","size":9},"encoding":{"x":{"field":"lo","type":"quantitative","title":null}}},
      {"mark":{"type":"tick","size":9},"encoding":{"x":{"field":"hi","type":"quantitative","title":null}}},
      {"mark":{"type":"bar","fill":"white","stroke":"black","strokeWidth":0.8},"encoding":{"x":{"field":"q1","type":"quantitative","title":null},"x2":{"field":"q3"}}},
      {"mark":{"type":"tick","size":21,"thickness":2},"encoding":{"x":{"field":"med","type":"quantitative","title":null}}},
      {"data":{"name":"o"},"transform":[{"filter":"datum.p=='a'&&datum.r=='x5'"}],"mark":"point","encoding":{"x":{"field":"v","type":"quantitative","title":null}}}]},
    {"width":85,"height":38,"data":{"name":"bx"},"transform":[{"filter":"datum.p=='a'&&datum.r=='x10'"}],"encoding":{"y":{"field":"r","type":"nominal","title":null,"scale":{"paddingInner":0,"paddingOuter":0.405,"align":0.86},"axis":{"orient":"right"}}},"layer":[
      {"mark":"rule","encoding":{"x":{"field":"lo","type":"quantitative","title":null,"scale":{"domain":[0,70]}},"x2":{"field":"q1"}}},
      {"mark":"rule","encoding":{"x":{"field":"q3","type":"quantitative","title":null},"x2":{"field":"hi"}}},
      {"mark":{"type":"tick","size":9},"encoding":{"x":{"field":"lo","type":"quantitative","title":null}}},
      {"mark":{"type":"tick","size":9},"encoding":{"x":{"field":"hi","type":"quantitative","title":null}}},
      {"mark":{"type":"bar","fill":"white","stroke":"black","strokeWidth":0.8},"encoding":{"x":{"field":"q1","type":"quantitative","title":null},"x2":{"field":"q3"}}},
      {"mark":{"type":"tick","size":21,"thickness":2},"encoding":{"x":{"field":"med","type":"quantitative","title":null}}},
      {"data":{"name":"o"},"transform":[{"filter":"datum.p=='a'&&datum.r=='x10'"}],"mark":"point","encoding":{"x":{"field":"v","type":"quantitative","title":null}}}]},
    {"width":85,"height":38,"data":{"name":"bx"},"transform":[{"filter":"datum.p=='a'&&datum.r=='x15'"}],"encoding":{"y":{"field":"r","type":"nominal","title":null,"scale":{"paddingInner":0,"paddingOuter":0.405,"align":0.86},"axis":{"orient":"right"}}},"layer":[
      {"mark":"rule","encoding":{"x":{"field":"lo","type":"quantitative","title":null,"scale":{"domain":[0,70]}},"x2":{"field":"q1"}}},
      {"mark":"rule","encoding":{"x":{"field":"q3","type":"quantitative","title":null},"x2":{"field":"hi"}}},
      {"mark":{"type":"tick","size":9},"encoding":{"x":{"field":"lo","type":"quantitative","title":null}}},
      {"mark":{"type":"tick","size":9},"encoding":{"x":{"field":"hi","type":"quantitative","title":null}}},
      {"mark":{"type":"bar","fill":"white","stroke":"black","strokeWidth":0.8},"encoding":{"x":{"field":"q1","type":"quantitative","title":null},"x2":{"field":"q3"}}},
      {"mark":{"type":"tick","size":21,"thickness":2},"encoding":{"x":{"field":"med","type":"quantitative","title":null}}},
      {"data":{"name":"o"},"transform":[{"filter":"datum.p=='a'&&datum.r=='x15'"}],"mark":"point","encoding":{"x":{"field":"v","type":"quantitative","title":null}}}]},
    {"width":85,"height":38,"data":{"name":"bx"},"transform":[{"filter":"datum.p=='a'&&datum.r=='x20'"}],"encoding":{"y":{"field":"r","type":"nominal","title":null,"scale":{"paddingInner":0,"paddingOuter":0.405,"align":0.86},"axis":{"orient":"right"}}},"layer":[
      {"mark":"rule","encoding":{"x":{"field":"lo","type":"quantitative","title":null,"scale":{"domain":[0,70]}},"x2":{"field":"q1"}}},
      {"mark":"rule","encoding":{"x":{"field":"q3","type":"quantitative","title":null},"x2":{"field":"hi"}}},
      {"mark":{"type":"tick","size":9},"encoding":{"x":{"field":"lo","type":"quantitative","title":null}}},
      {"mark":{"type":"tick","size":9},"encoding":{"x":{"field":"hi","type":"quantitative","title":null}}},
      {"mark":{"type":"bar","fill":"white","stroke":"black","strokeWidth":0.8},"encoding":{"x":{"field":"q1","type":"quantitative","title":null},"x2":{"field":"q3"}}},
      {"mark":{"type":"tick","size":21,"thickness":2},"encoding":{"x":{"field":"med","type":"quantitative","title":null}}},
      {"data":{"name":"o"},"transform":[{"filter":"datum.p=='a'&&datum.r=='x20'"}],"mark":"point","encoding":{"x":{"field":"v","type":"quantitative","title":null}}}]},
    {"width":85,"height":38,"data":{"name":"bx"},"transform":[{"filter":"datum.p=='a'&&datum.r=='x25'"}],"encoding":{"y":{"field":"r","type":"nominal","title":null,"scale":{"paddingInner":0,"paddingOuter":0.405,"align":0.86},"axis":{"orient":"right"}}},"layer":[
      {"mark":"rule","encoding":{"x":{"field":"lo","type":"quantitative","title":null,"scale":{"domain":[0,70]}},"x2":{"field":"q1"}}},
      {"mark":"rule","encoding":{"x":{"field":"q3","type":"quantitative","title":null},"x2":{"field":"hi"}}},
      {"mark":{"type":"tick","size":9},"encoding":{"x":{"field":"lo","type":"quantitative","title":null}}},
      {"mark":{"type":"tick","size":9},"encoding":{"x":{"field":"hi","type":"quantitative","title":null}}},
      {"mark":{"type":"bar","fill":"white","stroke":"black","strokeWidth":0.8},"encoding":{"x":{"field":"q1","type":"quantitative","title":null},"x2":{"field":"q3"}}},
      {"mark":{"type":"tick","size":21,"thickness":2},"encoding":{"x":{"field":"med","type":"quantitative","title":null}}},
      {"data":{"name":"o"},"transform":[{"filter":"datum.p=='a'&&datum.r=='x25'"}],"mark":"point","encoding":{"x":{"field":"v","type":"quantitative","title":null}}}]},
    {"width":85,"height":38,"data":{"name":"bx"},"transform":[{"filter":"datum.p=='a'&&datum.r=='x50'"}],"encoding":{"y":{"field":"r","type":"nominal","title":null,"scale":{"paddingInner":0,"paddingOuter":0.405,"align":0.86},"axis":{"orient":"right"}}},"layer":[
      {"mark":"rule","encoding":{"x":{"field":"lo","type":"quantitative","title":null,"scale":{"domain":[0,70]},"axis":{"labels":true}},"x2":{"field":"q1"}}},
      {"mark":"rule","encoding":{"x":{"field":"q3","type":"quantitative","title":null},"x2":{"field":"hi"}}},
      {"mark":{"type":"tick","size":9},"encoding":{"x":{"field":"lo","type":"quantitative","title":null}}},
      {"mark":{"type":"tick","size":9},"encoding":{"x":{"field":"hi","type":"quantitative","title":null}}},
      {"mark":{"type":"bar","fill":"white","stroke":"black","strokeWidth":0.8},"encoding":{"x":{"field":"q1","type":"quantitative","title":null},"x2":{"field":"q3"}}},
      {"mark":{"type":"tick","size":21,"thickness":2},"encoding":{"x":{"field":"med","type":"quantitative","title":null}}},
      {"data":{"name":"o"},"transform":[{"filter":"datum.p=='a'&&datum.r=='x50'"}],"mark":"point","encoding":{"x":{"field":"v","type":"quantitative","title":null}}}]}
   ], "spacing": 6, "bounds": "flush"}
  ]}]},
{"spacing": 12, "hconcat": [
{"title": {"text": "b", "anchor": "start", "frame": "bounds", "font": "Liberation Serif", "fontWeight": "bold", "fontSize": 17, "offset": -12},
 "vconcat": [{"title": {"text": "Earliest patent infection (days)", "orient": "bottom", "anchor": "middle", "frame": "bounds", "dx": 12, "offset": 2},
  "spacing": 8,
  "hconcat": [
   {"vconcat": [
    {"width":91,"height":38,"data":{"name":"h"},"transform":[{"filter":"datum.p=='b'&&datum.r=='x1'"}],"resolve":{"axis":{"x":"independent"}},"layer":[
      {"mark":{"type":"bar","fill":"white","stroke":"black","strokeWidth":0.7},"encoding":{"x":{"field":"b0","type":"quantitative","title":null,"scale":{"domain":[0,70]},"axis":{"orient":"bottom"}},"x2":{"field":"b1"},"y":{"field":"n","type":"quantitative","title":null,"scale":{"domain":[0,1000]}},"y2":{"datum":0}}},
      {"mark":{"type":"bar","opacity":0},"encoding":{"x":{"field":"b0","type":"quantitative","title":null,"axis":{"orient":"top"}},"x2":{"field":"b1"},"y":{"field":"n","type":"quantitative","title":null},"y2":{"datum":0}}}]},
    {"width":91,"height":38,"data":{"name":"h"},"transform":[{"filter":"datum.p=='b'&&datum.r=='x2'"}],"mark":{"type":"bar","fill":"white","stroke":"black","strokeWidth":0.7},"encoding":{"x":{"field":"b0","type":"quantitative","title":null,"scale":{"domain":[0,70]}},"x2":{"field":"b1"},"y":{"field":"n","type":"quantitative","title":null,"scale":{"domain":[0,1000]}},"y2":{"datum":0}}},
    {"width":91,"height":38,"data":{"name":"h"},"transform":[{"filter":"datum.p=='b'&&datum.r=='x5'"}],"mark":{"type":"bar","fill":"white","stroke":"black","strokeWidth":0.7},"encoding":{"x":{"field":"b0","type":"quantitative","title":null,"scale":{"domain":[0,70]}},"x2":{"field":"b1"},"y":{"field":"n","type":"quantitative","title":null,"scale":{"domain":[0,1000]}},"y2":{"datum":0}}},
    {"width":91,"height":38,"data":{"name":"h"},"transform":[{"filter":"datum.p=='b'&&datum.r=='x10'"}],"mark":{"type":"bar","fill":"white","stroke":"black","strokeWidth":0.7},"encoding":{"x":{"field":"b0","type":"quantitative","title":null,"scale":{"domain":[0,70]}},"x2":{"field":"b1"},"y":{"field":"n","type":"quantitative","title":"Frequency","scale":{"domain":[0,1000]},"axis":{"titleX":-29,"titleY":38.5,"titleAngle":-90,"titleAlign":"center","titleBaseline":"alphabetic"}},"y2":{"datum":0}}},
    {"width":91,"height":38,"data":{"name":"h"},"transform":[{"filter":"datum.p=='b'&&datum.r=='x15'"}],"mark":{"type":"bar","fill":"white","stroke":"black","strokeWidth":0.7},"encoding":{"x":{"field":"b0","type":"quantitative","title":null,"scale":{"domain":[0,70]}},"x2":{"field":"b1"},"y":{"field":"n","type":"quantitative","title":null,"scale":{"domain":[0,1000]}},"y2":{"datum":0}}},
    {"width":91,"height":38,"data":{"name":"h"},"transform":[{"filter":"datum.p=='b'&&datum.r=='x20'"}],"mark":{"type":"bar","fill":"white","stroke":"black","strokeWidth":0.7},"encoding":{"x":{"field":"b0","type":"quantitative","title":null,"scale":{"domain":[0,70]}},"x2":{"field":"b1"},"y":{"field":"n","type":"quantitative","title":null,"scale":{"domain":[0,1000]}},"y2":{"datum":0}}},
    {"width":91,"height":38,"data":{"name":"h"},"transform":[{"filter":"datum.p=='b'&&datum.r=='x25'"}],"mark":{"type":"bar","fill":"white","stroke":"black","strokeWidth":0.7},"encoding":{"x":{"field":"b0","type":"quantitative","title":null,"scale":{"domain":[0,70]}},"x2":{"field":"b1"},"y":{"field":"n","type":"quantitative","title":null,"scale":{"domain":[0,1000]}},"y2":{"datum":0}}},
    {"width":91,"height":38,"data":{"name":"h"},"transform":[{"filter":"datum.p=='b'&&datum.r=='x50'"}],"mark":{"type":"bar","fill":"white","stroke":"black","strokeWidth":0.7},"encoding":{"x":{"field":"b0","type":"quantitative","title":null,"scale":{"domain":[0,70]},"axis":{"labels":true}},"x2":{"field":"b1"},"y":{"field":"n","type":"quantitative","title":null,"scale":{"domain":[0,1000]}},"y2":{"datum":0}}}
   ], "spacing": 6, "bounds": "flush"},
   {"vconcat": [
    {"width":85,"height":38,"data":{"name":"bx"},"transform":[{"filter":"datum.p=='b'&&datum.r=='x1'"}],"resolve":{"axis":{"x":"independent"}},"encoding":{"y":{"field":"r","type":"nominal","title":"IC50","scale":{"paddingInner":0,"paddingOuter":0.405,"align":0.86},"axis":{"orient":"right","titleAngle":0,"titleAlign":"left","titleBaseline":"alphabetic","titleX":6,"titleY":6,"titleFontSize":9}}},"layer":[
      {"mark":"rule","encoding":{"x":{"field":"lo","type":"quantitative","title":null,"scale":{"domain":[0,70]},"axis":{"orient":"bottom"}},"x2":{"field":"q1"}}},
      {"mark":"rule","encoding":{"x":{"field":"q3","type":"quantitative","title":null,"axis":null},"x2":{"field":"hi"}}},
      {"mark":{"type":"tick","size":9},"encoding":{"x":{"field":"lo","type":"quantitative","title":null,"axis":null}}},
      {"mark":{"type":"tick","size":9},"encoding":{"x":{"field":"hi","type":"quantitative","title":null,"axis":null}}},
      {"mark":{"type":"bar","fill":"white","stroke":"black","strokeWidth":0.8},"encoding":{"x":{"field":"q1","type":"quantitative","title":null,"axis":{"orient":"top"}},"x2":{"field":"q3"}}},
      {"mark":{"type":"tick","size":21,"thickness":2},"encoding":{"x":{"field":"med","type":"quantitative","title":null,"axis":null}}},
      {"data":{"name":"o"},"transform":[{"filter":"datum.p=='b'&&datum.r=='x1'"}],"mark":"point","encoding":{"x":{"field":"v","type":"quantitative","title":null,"axis":null}}}]},
    {"width":85,"height":38,"data":{"name":"bx"},"transform":[{"filter":"datum.p=='b'&&datum.r=='x2'"}],"encoding":{"y":{"field":"r","type":"nominal","title":null,"scale":{"paddingInner":0,"paddingOuter":0.405,"align":0.86},"axis":{"orient":"right"}}},"layer":[
      {"mark":"rule","encoding":{"x":{"field":"lo","type":"quantitative","title":null,"scale":{"domain":[0,70]}},"x2":{"field":"q1"}}},
      {"mark":"rule","encoding":{"x":{"field":"q3","type":"quantitative","title":null},"x2":{"field":"hi"}}},
      {"mark":{"type":"tick","size":9},"encoding":{"x":{"field":"lo","type":"quantitative","title":null}}},
      {"mark":{"type":"tick","size":9},"encoding":{"x":{"field":"hi","type":"quantitative","title":null}}},
      {"mark":{"type":"bar","fill":"white","stroke":"black","strokeWidth":0.8},"encoding":{"x":{"field":"q1","type":"quantitative","title":null},"x2":{"field":"q3"}}},
      {"mark":{"type":"tick","size":21,"thickness":2},"encoding":{"x":{"field":"med","type":"quantitative","title":null}}},
      {"data":{"name":"o"},"transform":[{"filter":"datum.p=='b'&&datum.r=='x2'"}],"mark":"point","encoding":{"x":{"field":"v","type":"quantitative","title":null}}}]},
    {"width":85,"height":38,"data":{"name":"bx"},"transform":[{"filter":"datum.p=='b'&&datum.r=='x5'"}],"encoding":{"y":{"field":"r","type":"nominal","title":null,"scale":{"paddingInner":0,"paddingOuter":0.405,"align":0.86},"axis":{"orient":"right"}}},"layer":[
      {"mark":"rule","encoding":{"x":{"field":"lo","type":"quantitative","title":null,"scale":{"domain":[0,70]}},"x2":{"field":"q1"}}},
      {"mark":"rule","encoding":{"x":{"field":"q3","type":"quantitative","title":null},"x2":{"field":"hi"}}},
      {"mark":{"type":"tick","size":9},"encoding":{"x":{"field":"lo","type":"quantitative","title":null}}},
      {"mark":{"type":"tick","size":9},"encoding":{"x":{"field":"hi","type":"quantitative","title":null}}},
      {"mark":{"type":"bar","fill":"white","stroke":"black","strokeWidth":0.8},"encoding":{"x":{"field":"q1","type":"quantitative","title":null},"x2":{"field":"q3"}}},
      {"mark":{"type":"tick","size":21,"thickness":2},"encoding":{"x":{"field":"med","type":"quantitative","title":null}}},
      {"data":{"name":"o"},"transform":[{"filter":"datum.p=='b'&&datum.r=='x5'"}],"mark":"point","encoding":{"x":{"field":"v","type":"quantitative","title":null}}}]},
    {"width":85,"height":38,"data":{"name":"bx"},"transform":[{"filter":"datum.p=='b'&&datum.r=='x10'"}],"encoding":{"y":{"field":"r","type":"nominal","title":null,"scale":{"paddingInner":0,"paddingOuter":0.405,"align":0.86},"axis":{"orient":"right"}}},"layer":[
      {"mark":"rule","encoding":{"x":{"field":"lo","type":"quantitative","title":null,"scale":{"domain":[0,70]}},"x2":{"field":"q1"}}},
      {"mark":"rule","encoding":{"x":{"field":"q3","type":"quantitative","title":null},"x2":{"field":"hi"}}},
      {"mark":{"type":"tick","size":9},"encoding":{"x":{"field":"lo","type":"quantitative","title":null}}},
      {"mark":{"type":"tick","size":9},"encoding":{"x":{"field":"hi","type":"quantitative","title":null}}},
      {"mark":{"type":"bar","fill":"white","stroke":"black","strokeWidth":0.8},"encoding":{"x":{"field":"q1","type":"quantitative","title":null},"x2":{"field":"q3"}}},
      {"mark":{"type":"tick","size":21,"thickness":2},"encoding":{"x":{"field":"med","type":"quantitative","title":null}}},
      {"data":{"name":"o"},"transform":[{"filter":"datum.p=='b'&&datum.r=='x10'"}],"mark":"point","encoding":{"x":{"field":"v","type":"quantitative","title":null}}}]},
    {"width":85,"height":38,"data":{"name":"bx"},"transform":[{"filter":"datum.p=='b'&&datum.r=='x15'"}],"encoding":{"y":{"field":"r","type":"nominal","title":null,"scale":{"paddingInner":0,"paddingOuter":0.405,"align":0.86},"axis":{"orient":"right"}}},"layer":[
      {"mark":"rule","encoding":{"x":{"field":"lo","type":"quantitative","title":null,"scale":{"domain":[0,70]}},"x2":{"field":"q1"}}},
      {"mark":"rule","encoding":{"x":{"field":"q3","type":"quantitative","title":null},"x2":{"field":"hi"}}},
      {"mark":{"type":"tick","size":9},"encoding":{"x":{"field":"lo","type":"quantitative","title":null}}},
      {"mark":{"type":"tick","size":9},"encoding":{"x":{"field":"hi","type":"quantitative","title":null}}},
      {"mark":{"type":"bar","fill":"white","stroke":"black","strokeWidth":0.8},"encoding":{"x":{"field":"q1","type":"quantitative","title":null},"x2":{"field":"q3"}}},
      {"mark":{"type":"tick","size":21,"thickness":2},"encoding":{"x":{"field":"med","type":"quantitative","title":null}}},
      {"data":{"name":"o"},"transform":[{"filter":"datum.p=='b'&&datum.r=='x15'"}],"mark":"point","encoding":{"x":{"field":"v","type":"quantitative","title":null}}}]},
    {"width":85,"height":38,"data":{"name":"bx"},"transform":[{"filter":"datum.p=='b'&&datum.r=='x20'"}],"encoding":{"y":{"field":"r","type":"nominal","title":null,"scale":{"paddingInner":0,"paddingOuter":0.405,"align":0.86},"axis":{"orient":"right"}}},"layer":[
      {"mark":"rule","encoding":{"x":{"field":"lo","type":"quantitative","title":null,"scale":{"domain":[0,70]}},"x2":{"field":"q1"}}},
      {"mark":"rule","encoding":{"x":{"field":"q3","type":"quantitative","title":null},"x2":{"field":"hi"}}},
      {"mark":{"type":"tick","size":9},"encoding":{"x":{"field":"lo","type":"quantitative","title":null}}},
      {"mark":{"type":"tick","size":9},"encoding":{"x":{"field":"hi","type":"quantitative","title":null}}},
      {"mark":{"type":"bar","fill":"white","stroke":"black","strokeWidth":0.8},"encoding":{"x":{"field":"q1","type":"quantitative","title":null},"x2":{"field":"q3"}}},
      {"mark":{"type":"tick","size":21,"thickness":2},"encoding":{"x":{"field":"med","type":"quantitative","title":null}}},
      {"data":{"name":"o"},"transform":[{"filter":"datum.p=='b'&&datum.r=='x20'"}],"mark":"point","encoding":{"x":{"field":"v","type":"quantitative","title":null}}}]},
    {"width":85,"height":38,"data":{"name":"bx"},"transform":[{"filter":"datum.p=='b'&&datum.r=='x25'"}],"encoding":{"y":{"field":"r","type":"nominal","title":null,"scale":{"paddingInner":0,"paddingOuter":0.405,"align":0.86},"axis":{"orient":"right"}}},"layer":[
      {"mark":"rule","encoding":{"x":{"field":"lo","type":"quantitative","title":null,"scale":{"domain":[0,70]}},"x2":{"field":"q1"}}},
      {"mark":"rule","encoding":{"x":{"field":"q3","type":"quantitative","title":null},"x2":{"field":"hi"}}},
      {"mark":{"type":"tick","size":9},"encoding":{"x":{"field":"lo","type":"quantitative","title":null}}},
      {"mark":{"type":"tick","size":9},"encoding":{"x":{"field":"hi","type":"quantitative","title":null}}},
      {"mark":{"type":"bar","fill":"white","stroke":"black","strokeWidth":0.8},"encoding":{"x":{"field":"q1","type":"quantitative","title":null},"x2":{"field":"q3"}}},
      {"mark":{"type":"tick","size":21,"thickness":2},"encoding":{"x":{"field":"med","type":"quantitative","title":null}}},
      {"data":{"name":"o"},"transform":[{"filter":"datum.p=='b'&&datum.r=='x25'"}],"mark":"point","encoding":{"x":{"field":"v","type":"quantitative","title":null}}}]},
    {"width":85,"height":38,"data":{"name":"bx"},"transform":[{"filter":"datum.p=='b'&&datum.r=='x50'"}],"encoding":{"y":{"field":"r","type":"nominal","title":null,"scale":{"paddingInner":0,"paddingOuter":0.405,"align":0.86},"axis":{"orient":"right"}}},"layer":[
      {"mark":"rule","encoding":{"x":{"field":"lo","type":"quantitative","title":null,"scale":{"domain":[0,70]},"axis":{"labels":true}},"x2":{"field":"q1"}}},
      {"mark":"rule","encoding":{"x":{"field":"q3","type":"quantitative","title":null},"x2":{"field":"hi"}}},
      {"mark":{"type":"tick","size":9},"encoding":{"x":{"field":"lo","type":"quantitative","title":null}}},
      {"mark":{"type":"tick","size":9},"encoding":{"x":{"field":"hi","type":"quantitative","title":null}}},
      {"mark":{"type":"bar","fill":"white","stroke":"black","strokeWidth":0.8},"encoding":{"x":{"field":"q1","type":"quantitative","title":null},"x2":{"field":"q3"}}},
      {"mark":{"type":"tick","size":21,"thickness":2},"encoding":{"x":{"field":"med","type":"quantitative","title":null}}},
      {"data":{"name":"o"},"transform":[{"filter":"datum.p=='b'&&datum.r=='x50'"}],"mark":"point","encoding":{"x":{"field":"v","type":"quantitative","title":null}}}]}
   ], "spacing": 6, "bounds": "flush"}
  ]}]},
{"title": {"text": "c", "anchor": "start", "frame": "bounds", "font": "Liberation Serif", "fontWeight": "bold", "fontSize": 17, "offset": -12},
 "vconcat": [{"title": {"text": "Earliest patent infection (days)", "orient": "bottom", "anchor": "middle", "frame": "bounds", "dx": 12, "offset": 2},
  "spacing": 8,
  "hconcat": [
   {"vconcat": [
    {"width":91,"height":38,"data":{"name":"h"},"transform":[{"filter":"datum.p=='c'&&datum.r=='x1'"}],"resolve":{"axis":{"x":"independent"}},"layer":[
      {"mark":{"type":"bar","fill":"white","stroke":"black","strokeWidth":0.7},"encoding":{"x":{"field":"b0","type":"quantitative","title":null,"scale":{"domain":[0,70]},"axis":{"orient":"bottom"}},"x2":{"field":"b1"},"y":{"field":"n","type":"quantitative","title":null,"scale":{"domain":[0,4000]}},"y2":{"datum":0}}},
      {"mark":{"type":"bar","opacity":0},"encoding":{"x":{"field":"b0","type":"quantitative","title":null,"axis":{"orient":"top"}},"x2":{"field":"b1"},"y":{"field":"n","type":"quantitative","title":null},"y2":{"datum":0}}}]},
    {"width":91,"height":38,"data":{"name":"h"},"transform":[{"filter":"datum.p=='c'&&datum.r=='x2'"}],"mark":{"type":"bar","fill":"white","stroke":"black","strokeWidth":0.7},"encoding":{"x":{"field":"b0","type":"quantitative","title":null,"scale":{"domain":[0,70]}},"x2":{"field":"b1"},"y":{"field":"n","type":"quantitative","title":null,"scale":{"domain":[0,4000]}},"y2":{"datum":0}}},
    {"width":91,"height":38,"data":{"name":"h"},"transform":[{"filter":"datum.p=='c'&&datum.r=='x5'"}],"mark":{"type":"bar","fill":"white","stroke":"black","strokeWidth":0.7},"encoding":{"x":{"field":"b0","type":"quantitative","title":null,"scale":{"domain":[0,70]}},"x2":{"field":"b1"},"y":{"field":"n","type":"quantitative","title":null,"scale":{"domain":[0,4000]}},"y2":{"datum":0}}},
    {"width":91,"height":38,"data":{"name":"h"},"transform":[{"filter":"datum.p=='c'&&datum.r=='x10'"}],"mark":{"type":"bar","fill":"white","stroke":"black","strokeWidth":0.7},"encoding":{"x":{"field":"b0","type":"quantitative","title":null,"scale":{"domain":[0,70]}},"x2":{"field":"b1"},"y":{"field":"n","type":"quantitative","title":"Frequency","scale":{"domain":[0,4000]},"axis":{"titleX":-29,"titleY":38.5,"titleAngle":-90,"titleAlign":"center","titleBaseline":"alphabetic"}},"y2":{"datum":0}}},
    {"width":91,"height":38,"data":{"name":"h"},"transform":[{"filter":"datum.p=='c'&&datum.r=='x15'"}],"mark":{"type":"bar","fill":"white","stroke":"black","strokeWidth":0.7},"encoding":{"x":{"field":"b0","type":"quantitative","title":null,"scale":{"domain":[0,70]}},"x2":{"field":"b1"},"y":{"field":"n","type":"quantitative","title":null,"scale":{"domain":[0,4000]}},"y2":{"datum":0}}},
    {"width":91,"height":38,"data":{"name":"h"},"transform":[{"filter":"datum.p=='c'&&datum.r=='x20'"}],"mark":{"type":"bar","fill":"white","stroke":"black","strokeWidth":0.7},"encoding":{"x":{"field":"b0","type":"quantitative","title":null,"scale":{"domain":[0,70]}},"x2":{"field":"b1"},"y":{"field":"n","type":"quantitative","title":null,"scale":{"domain":[0,4000]}},"y2":{"datum":0}}},
    {"width":91,"height":38,"data":{"name":"h"},"transform":[{"filter":"datum.p=='c'&&datum.r=='x25'"}],"mark":{"type":"bar","fill":"white","stroke":"black","strokeWidth":0.7},"encoding":{"x":{"field":"b0","type":"quantitative","title":null,"scale":{"domain":[0,70]}},"x2":{"field":"b1"},"y":{"field":"n","type":"quantitative","title":null,"scale":{"domain":[0,4000]}},"y2":{"datum":0}}},
    {"width":91,"height":38,"data":{"name":"h"},"transform":[{"filter":"datum.p=='c'&&datum.r=='x50'"}],"mark":{"type":"bar","fill":"white","stroke":"black","strokeWidth":0.7},"encoding":{"x":{"field":"b0","type":"quantitative","title":null,"scale":{"domain":[0,70]},"axis":{"labels":true}},"x2":{"field":"b1"},"y":{"field":"n","type":"quantitative","title":null,"scale":{"domain":[0,4000]}},"y2":{"datum":0}}}
   ], "spacing": 6, "bounds": "flush"},
   {"vconcat": [
    {"width":85,"height":38,"data":{"name":"bx"},"transform":[{"filter":"datum.p=='c'&&datum.r=='x1'"}],"resolve":{"axis":{"x":"independent"}},"encoding":{"y":{"field":"r","type":"nominal","title":"IC50","scale":{"paddingInner":0,"paddingOuter":0.405,"align":0.86},"axis":{"orient":"right","titleAngle":0,"titleAlign":"left","titleBaseline":"alphabetic","titleX":6,"titleY":6,"titleFontSize":9}}},"layer":[
      {"mark":"rule","encoding":{"x":{"field":"lo","type":"quantitative","title":null,"scale":{"domain":[0,70]},"axis":{"orient":"bottom"}},"x2":{"field":"q1"}}},
      {"mark":"rule","encoding":{"x":{"field":"q3","type":"quantitative","title":null,"axis":null},"x2":{"field":"hi"}}},
      {"mark":{"type":"tick","size":9},"encoding":{"x":{"field":"lo","type":"quantitative","title":null,"axis":null}}},
      {"mark":{"type":"tick","size":9},"encoding":{"x":{"field":"hi","type":"quantitative","title":null,"axis":null}}},
      {"mark":{"type":"bar","fill":"white","stroke":"black","strokeWidth":0.8},"encoding":{"x":{"field":"q1","type":"quantitative","title":null,"axis":{"orient":"top"}},"x2":{"field":"q3"}}},
      {"mark":{"type":"tick","size":21,"thickness":2},"encoding":{"x":{"field":"med","type":"quantitative","title":null,"axis":null}}},
      {"data":{"name":"o"},"transform":[{"filter":"datum.p=='c'&&datum.r=='x1'"}],"mark":"point","encoding":{"x":{"field":"v","type":"quantitative","title":null,"axis":null}}}]},
    {"width":85,"height":38,"data":{"name":"bx"},"transform":[{"filter":"datum.p=='c'&&datum.r=='x2'"}],"encoding":{"y":{"field":"r","type":"nominal","title":null,"scale":{"paddingInner":0,"paddingOuter":0.405,"align":0.86},"axis":{"orient":"right"}}},"layer":[
      {"mark":"rule","encoding":{"x":{"field":"lo","type":"quantitative","title":null,"scale":{"domain":[0,70]}},"x2":{"field":"q1"}}},
      {"mark":"rule","encoding":{"x":{"field":"q3","type":"quantitative","title":null},"x2":{"field":"hi"}}},
      {"mark":{"type":"tick","size":9},"encoding":{"x":{"field":"lo","type":"quantitative","title":null}}},
      {"mark":{"type":"tick","size":9},"encoding":{"x":{"field":"hi","type":"quantitative","title":null}}},
      {"mark":{"type":"bar","fill":"white","stroke":"black","strokeWidth":0.8},"encoding":{"x":{"field":"q1","type":"quantitative","title":null},"x2":{"field":"q3"}}},
      {"mark":{"type":"tick","size":21,"thickness":2},"encoding":{"x":{"field":"med","type":"quantitative","title":null}}},
      {"data":{"name":"o"},"transform":[{"filter":"datum.p=='c'&&datum.r=='x2'"}],"mark":"point","encoding":{"x":{"field":"v","type":"quantitative","title":null}}}]},
    {"width":85,"height":38,"data":{"name":"bx"},"transform":[{"filter":"datum.p=='c'&&datum.r=='x5'"}],"encoding":{"y":{"field":"r","type":"nominal","title":null,"scale":{"paddingInner":0,"paddingOuter":0.405,"align":0.86},"axis":{"orient":"right"}}},"layer":[
      {"mark":"rule","encoding":{"x":{"field":"lo","type":"quantitative","title":null,"scale":{"domain":[0,70]}},"x2":{"field":"q1"}}},
      {"mark":"rule","encoding":{"x":{"field":"q3","type":"quantitative","title":null},"x2":{"field":"hi"}}},
      {"mark":{"type":"tick","size":9},"encoding":{"x":{"field":"lo","type":"quantitative","title":null}}},
      {"mark":{"type":"tick","size":9},"encoding":{"x":{"field":"hi","type":"quantitative","title":null}}},
      {"mark":{"type":"bar","fill":"white","stroke":"black","strokeWidth":0.8},"encoding":{"x":{"field":"q1","type":"quantitative","title":null},"x2":{"field":"q3"}}},
      {"mark":{"type":"tick","size":21,"thickness":2},"encoding":{"x":{"field":"med","type":"quantitative","title":null}}},
      {"data":{"name":"o"},"transform":[{"filter":"datum.p=='c'&&datum.r=='x5'"}],"mark":"point","encoding":{"x":{"field":"v","type":"quantitative","title":null}}}]},
    {"width":85,"height":38,"data":{"name":"bx"},"transform":[{"filter":"datum.p=='c'&&datum.r=='x10'"}],"encoding":{"y":{"field":"r","type":"nominal","title":null,"scale":{"paddingInner":0,"paddingOuter":0.405,"align":0.86},"axis":{"orient":"right"}}},"layer":[
      {"mark":"rule","encoding":{"x":{"field":"lo","type":"quantitative","title":null,"scale":{"domain":[0,70]}},"x2":{"field":"q1"}}},
      {"mark":"rule","encoding":{"x":{"field":"q3","type":"quantitative","title":null},"x2":{"field":"hi"}}},
      {"mark":{"type":"tick","size":9},"encoding":{"x":{"field":"lo","type":"quantitative","title":null}}},
      {"mark":{"type":"tick","size":9},"encoding":{"x":{"field":"hi","type":"quantitative","title":null}}},
      {"mark":{"type":"bar","fill":"white","stroke":"black","strokeWidth":0.8},"encoding":{"x":{"field":"q1","type":"quantitative","title":null},"x2":{"field":"q3"}}},
      {"mark":{"type":"tick","size":21,"thickness":2},"encoding":{"x":{"field":"med","type":"quantitative","title":null}}},
      {"data":{"name":"o"},"transform":[{"filter":"datum.p=='c'&&datum.r=='x10'"}],"mark":"point","encoding":{"x":{"field":"v","type":"quantitative","title":null}}}]},
    {"width":85,"height":38,"data":{"name":"bx"},"transform":[{"filter":"datum.p=='c'&&datum.r=='x15'"}],"encoding":{"y":{"field":"r","type":"nominal","title":null,"scale":{"paddingInner":0,"paddingOuter":0.405,"align":0.86},"axis":{"orient":"right"}}},"layer":[
      {"mark":"rule","encoding":{"x":{"field":"lo","type":"quantitative","title":null,"scale":{"domain":[0,70]}},"x2":{"field":"q1"}}},
      {"mark":"rule","encoding":{"x":{"field":"q3","type":"quantitative","title":null},"x2":{"field":"hi"}}},
      {"mark":{"type":"tick","size":9},"encoding":{"x":{"field":"lo","type":"quantitative","title":null}}},
      {"mark":{"type":"tick","size":9},"encoding":{"x":{"field":"hi","type":"quantitative","title":null}}},
      {"mark":{"type":"bar","fill":"white","stroke":"black","strokeWidth":0.8},"encoding":{"x":{"field":"q1","type":"quantitative","title":null},"x2":{"field":"q3"}}},
      {"mark":{"type":"tick","size":21,"thickness":2},"encoding":{"x":{"field":"med","type":"quantitative","title":null}}},
      {"data":{"name":"o"},"transform":[{"filter":"datum.p=='c'&&datum.r=='x15'"}],"mark":"point","encoding":{"x":{"field":"v","type":"quantitative","title":null}}}]},
    {"width":85,"height":38,"data":{"name":"bx"},"transform":[{"filter":"datum.p=='c'&&datum.r=='x20'"}],"encoding":{"y":{"field":"r","type":"nominal","title":null,"scale":{"paddingInner":0,"paddingOuter":0.405,"align":0.86},"axis":{"orient":"right"}}},"layer":[
      {"mark":"rule","encoding":{"x":{"field":"lo","type":"quantitative","title":null,"scale":{"domain":[0,70]}},"x2":{"field":"q1"}}},
      {"mark":"rule","encoding":{"x":{"field":"q3","type":"quantitative","title":null},"x2":{"field":"hi"}}},
      {"mark":{"type":"tick","size":9},"encoding":{"x":{"field":"lo","type":"quantitative","title":null}}},
      {"mark":{"type":"tick","size":9},"encoding":{"x":{"field":"hi","type":"quantitative","title":null}}},
      {"mark":{"type":"bar","fill":"white","stroke":"black","strokeWidth":0.8},"encoding":{"x":{"field":"q1","type":"quantitative","title":null},"x2":{"field":"q3"}}},
      {"mark":{"type":"tick","size":21,"thickness":2},"encoding":{"x":{"field":"med","type":"quantitative","title":null}}},
      {"data":{"name":"o"},"transform":[{"filter":"datum.p=='c'&&datum.r=='x20'"}],"mark":"point","encoding":{"x":{"field":"v","type":"quantitative","title":null}}}]},
    {"width":85,"height":38,"data":{"name":"bx"},"transform":[{"filter":"datum.p=='c'&&datum.r=='x25'"}],"encoding":{"y":{"field":"r","type":"nominal","title":null,"scale":{"paddingInner":0,"paddingOuter":0.405,"align":0.86},"axis":{"orient":"right"}}},"layer":[
      {"mark":"rule","encoding":{"x":{"field":"lo","type":"quantitative","title":null,"scale":{"domain":[0,70]}},"x2":{"field":"q1"}}},
      {"mark":"rule","encoding":{"x":{"field":"q3","type":"quantitative","title":null},"x2":{"field":"hi"}}},
      {"mark":{"type":"tick","size":9},"encoding":{"x":{"field":"lo","type":"quantitative","title":null}}},
      {"mark":{"type":"tick","size":9},"encoding":{"x":{"field":"hi","type":"quantitative","title":null}}},
      {"mark":{"type":"bar","fill":"white","stroke":"black","strokeWidth":0.8},"encoding":{"x":{"field":"q1","type":"quantitative","title":null},"x2":{"field":"q3"}}},
      {"mark":{"type":"tick","size":21,"thickness":2},"encoding":{"x":{"field":"med","type":"quantitative","title":null}}},
      {"data":{"name":"o"},"transform":[{"filter":"datum.p=='c'&&datum.r=='x25'"}],"mark":"point","encoding":{"x":{"field":"v","type":"quantitative","title":null}}}]},
    {"width":85,"height":38,"data":{"name":"bx"},"transform":[{"filter":"datum.p=='c'&&datum.r=='x50'"}],"encoding":{"y":{"field":"r","type":"nominal","title":null,"scale":{"paddingInner":0,"paddingOuter":0.405,"align":0.86},"axis":{"orient":"right"}}},"layer":[
      {"mark":"rule","encoding":{"x":{"field":"lo","type":"quantitative","title":null,"scale":{"domain":[0,70]},"axis":{"labels":true}},"x2":{"field":"q1"}}},
      {"mark":"rule","encoding":{"x":{"field":"q3","type":"quantitative","title":null},"x2":{"field":"hi"}}},
      {"mark":{"type":"tick","size":9},"encoding":{"x":{"field":"lo","type":"quantitative","title":null}}},
      {"mark":{"type":"tick","size":9},"encoding":{"x":{"field":"hi","type":"quantitative","title":null}}},
      {"mark":{"type":"bar","fill":"white","stroke":"black","strokeWidth":0.8},"encoding":{"x":{"field":"q1","type":"quantitative","title":null},"x2":{"field":"q3"}}},
      {"mark":{"type":"tick","size":21,"thickness":2},"encoding":{"x":{"field":"med","type":"quantitative","title":null}}},
      {"data":{"name":"o"},"transform":[{"filter":"datum.p=='c'&&datum.r=='x50'"}],"mark":"point","encoding":{"x":{"field":"v","type":"quantitative","title":null}}}]}
   ], "spacing": 6, "bounds": "flush"}
  ]}]}
]}
],
"config": {
 "view": {"stroke": null},
 "font": "Liberation Sans",
 "numberFormat": "d",
 "mark": {"color": "black"},
 "rule": {"strokeDash": [2, 1.5], "strokeWidth": 0.8},
 "tick": {"thickness": 0.8},
 "point": {"size": 11, "strokeWidth": 0.6, "filled": false},
 "axis": {"domainColor": "black", "tickColor": "black", "labelColor": "black", "titleColor": "black", "grid": false, "labelFont": "Liberation Sans", "titleFont": "Liberation Sans", "titleFontWeight": "normal", "titleFontSize": 9, "domainWidth": 0.8, "tickWidth": 0.8, "labelFontSize": 6.5, "labelOverlap": false, "labelFlush": false},
 "axisTop": {"offset": 3, "tickSize": 2.5, "labelPadding": 5, "tickCount": 8, "labels": true},
 "axisBottom": {"offset": 2.5, "tickSize": 2, "labelPadding": 5, "tickCount": 8, "labels": false},
 "axisLeft": {"offset": 2.3, "tickSize": 2, "labelPadding": 2.5, "tickCount": 5},
 "axisRight": {"domain": false, "ticks": false, "labelPadding": 8, "labelFontSize": 9, "labelAngle": 0},
 "title": {"font": "Liberation Sans", "fontWeight": "normal", "fontSize": 9, "color": "black"}
}
}
